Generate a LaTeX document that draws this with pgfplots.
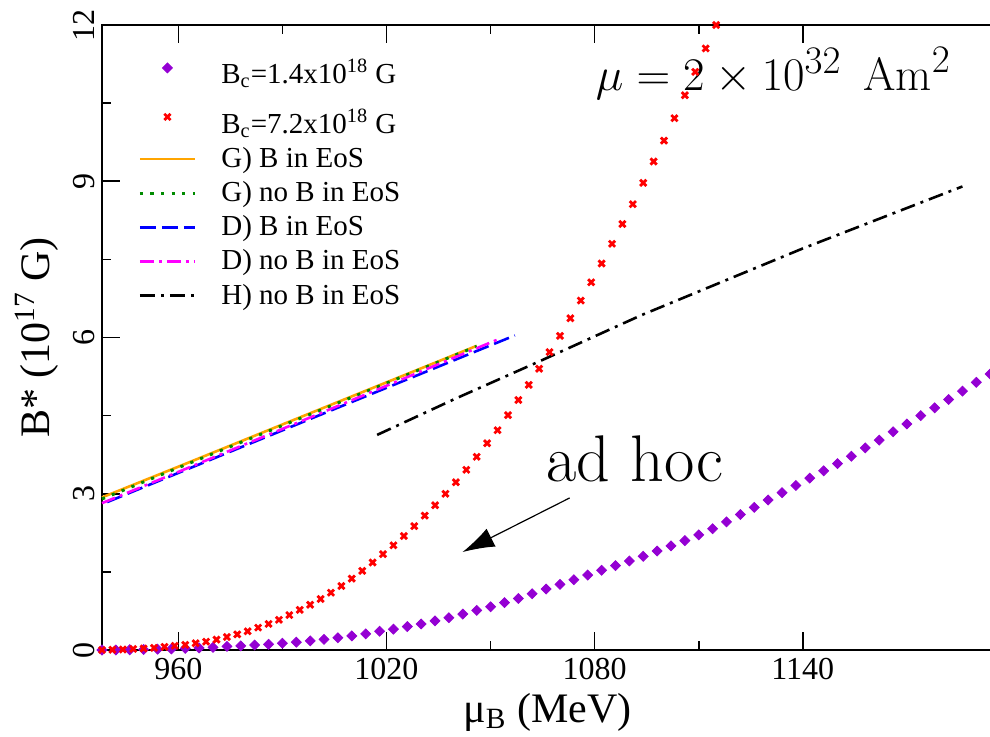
\documentclass[border=0pt]{standalone}
\usepackage{fontspec}
\usepackage{pgfplots}
\pgfplotsset{compat=1.18}
\usetikzlibrary{arrows.meta}
\newfontfamily\tnr{Liberation Serif}
\definecolor{cviolet}{RGB}{148,0,211}
\definecolor{corange}{RGB}{255,165,0}
\definecolor{cgreen}{RGB}{0,139,0}
\definecolor{cblue}{RGB}{0,0,255}
\definecolor{cmagenta}{RGB}{255,0,255}

\pgfplotstableread{
x y
938 0.00
942 0.00
946 0.005
950 0.01
954 0.015
958 0.02
962 0.03
966 0.04
970 0.05
974 0.07
978 0.08
982 0.095
986 0.11
990 0.13
994 0.15
998 0.175
1002 0.205
1006 0.235
1010 0.27
1014 0.31
1018 0.36
1022 0.40
1026 0.45
1030 0.50
1034 0.56
1038 0.62
1042 0.69
1046 0.76
1050 0.83
1054 0.91
1058 0.99
1062 1.08
1066 1.17
1070 1.26
1074 1.35
1078 1.44
1082 1.53
1086 1.62
1090 1.71
1094 1.80
1098 1.90
1102 2.00
1106 2.10
1110 2.21
1114 2.33
1118 2.46
1122 2.60
1126 2.74
1130 2.88
1134 3.02
1138 3.16
1142 3.30
1146 3.44
1150 3.58
1154 3.72
1158 3.88
1162 4.03
1166 4.19
1170 4.34
1174 4.50
1178 4.65
1182 4.81
1186 4.97
1190 5.14
1194 5.30
1198 5.46
}\violetdata

\pgfplotstableread{
x y
938 0.0
941 0.005
944 0.01
947 0.02
950 0.03
953 0.04
956 0.06
959 0.08
962 0.10
965 0.13
968 0.16
971 0.20
974 0.25
977 0.30
980 0.36
983 0.43
986 0.50
989 0.58
992 0.67
995 0.77
998 0.87
1001 0.98
1004 1.10
1007 1.23
1010 1.37
1013 1.52
1016 1.68
1019 1.84
1022 2.01
1025 2.19
1028 2.38
1031 2.58
1034 2.78
1037 3.00
1040 3.22
1043 3.46
1046 3.71
1049 3.97
1052 4.22
1055 4.51
1058 4.80
1061 5.09
1064 5.40
1067 5.72
1070 6.03
1073 6.37
1076 6.71
1079 7.06
1082 7.42
1085 7.80
1088 8.18
1091 8.56
1094 8.97
1097 9.38
1100 9.78
1103 10.21
1106 10.65
1109 11.10
1112 11.55
1115 12.00
}\reddata

\begin{document}
\begin{tikzpicture}
\begin{axis}[
  scale only axis, width=454.5pt, height=312.5pt,
  xmin=938, xmax=1200, ymin=0, ymax=12,
  xtick={960,1020,1080,1140}, ytick={0,3,6,9,12},
  extra x ticks={1200}, extra x tick labels={},
  minor x tick num=1, minor y tick num=1,
  tick align=inside, major tick length=9pt, minor tick length=4.5pt,
  axis line style={line width=0.9pt},
  every tick/.style={black, line width=0.8pt},
  /pgf/number format/assume math mode=true,
  /pgf/number format/1000 sep={},
  ticklabel style={font=\tnr\fontsize{16}{19}\selectfont},
  xticklabel style={yshift=-0.5pt},
  yticklabel style={rotate=90, anchor=south},
  xlabel={μ\textsubscript{B} (MeV)},
  ylabel={B* (10\textsuperscript{17} G)},
  label style={font=\tnr\fontsize{21}{25}\selectfont},
  xlabel style={at={(axis description cs:0.49,-0.1152)}, anchor=base},
  ylabel style={at={(axis description cs:-0.058,0.5)}, anchor=base},
  clip=false,
  legend cell align=left,
  legend style={draw=none, fill=none, at={(axis description cs:0,1)}, anchor=north west,
    xshift=15pt, yshift=-8pt, font=\tnr\fontsize{14.5}{17.4}\selectfont, row sep=1.5pt, column sep=10.5pt},
  legend image code/.code={\draw[mark repeat=2,mark phase=2,#1] plot coordinates {(0pt,0pt) (13.75pt,0pt) (27.5pt,0pt)};},
]
\addplot[only marks, mark=square*, mark size=1.75pt, color=cviolet, mark options={rotate=45, fill=cviolet, draw=cviolet}] table[x=x,y=y] {\violetdata};
\addlegendentry{B\textsubscript{c}=1.4x10\textsuperscript{18} G\rule{0pt}{17pt}}
\addplot[only marks, mark=x, mark size=2.2pt, color=red, mark options={line width=1.4pt}] table[x=x,y=y] {\reddata};
\addlegendentry{B\textsubscript{c}=7.2x10\textsuperscript{18} G\rule{0pt}{18pt}}
\addplot[corange, line width=1.3pt] coordinates {(938,2.93) (960,3.52) (1000,4.60) (1046,5.84)};
\addlegendentry{G) B in EoS}
\addplot[cgreen, line width=1.5pt, dash pattern=on 1.6pt off 3.7pt] coordinates {(938,2.90) (960,3.50) (1000,4.58) (1046,5.83)};
\addlegendentry{G) no B in EoS}
\addplot[cblue, line width=1.3pt, dash pattern=on 8pt off 3pt] coordinates {(939.5,2.84) (960,3.40) (1000,4.49) (1057,6.04)};
\addlegendentry{D) B in EoS}
\addplot[cmagenta, line width=1.3pt, dash pattern=on 7pt off 2.5pt on 1.5pt off 2.5pt] coordinates {(938,2.82) (960,3.42) (1000,4.52) (1052,5.96)};
\addlegendentry{D) no B in EoS}
\addplot[black, line width=1.3pt, dash pattern=on 7.5pt off 3pt on 1.5pt off 3pt] coordinates {(1017.3,4.13) (1040,4.83) (1065,5.57) (1093.5,6.43) (1140,7.71) (1186,8.90)};
\addlegendentry{H) no B in EoS}
\node[font=\fontsize{24.88}{30}\selectfont, scale=0.94, fill=white, inner sep=1pt, anchor=base] at (axis cs:1131.5,10.75) {$\mu = 2\times 10^{32}\ \,\mathrm{Am}^2$};
\node[font=\fontsize{33}{40}\selectfont, anchor=base] at (axis cs:1091.5,3.23) {ad hoc};
\draw[line width=0.6pt, -{Latex[length=16pt,width=10pt]}] (axis cs:1072.8,2.92) -- (axis cs:1041.9,1.88);
\end{axis}
\pgfresetboundingbox
\path ([xshift=-51pt,yshift=-43pt]current axis.south west) rectangle ([xshift=444pt,yshift=325pt]current axis.south west);
\end{tikzpicture}
\end{document}
